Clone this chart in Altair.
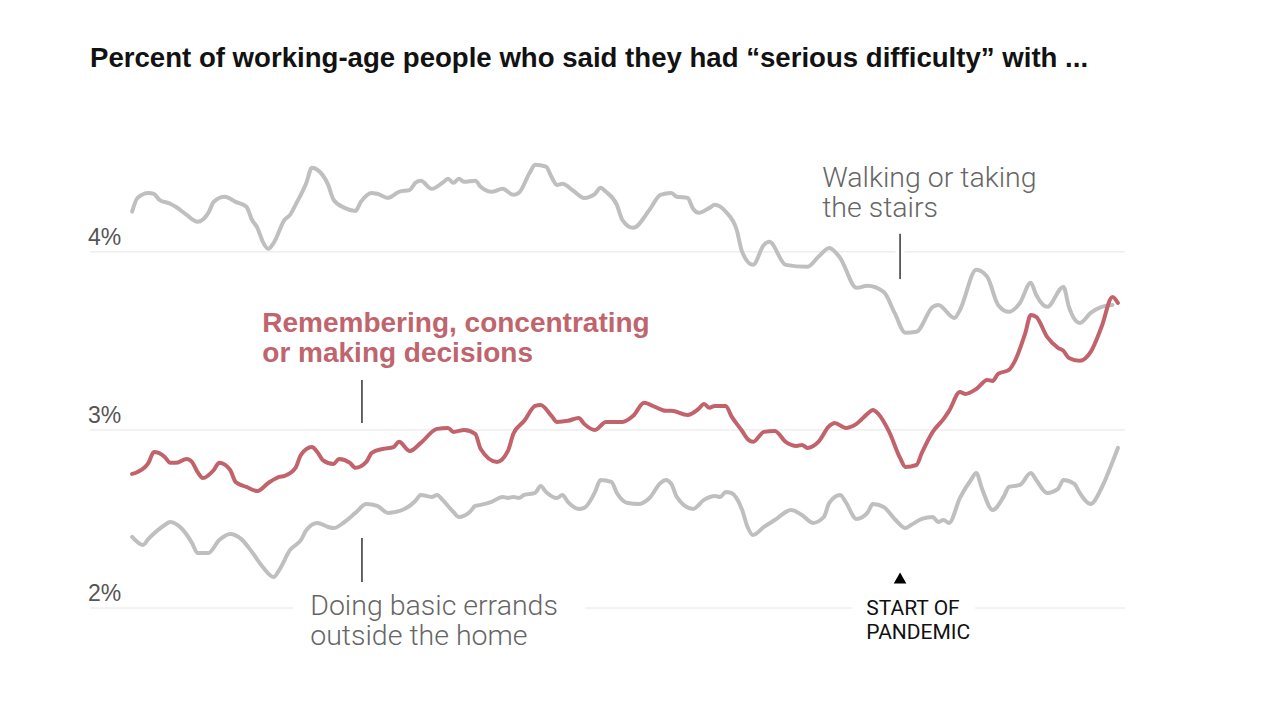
import altair as alt
import pandas as pd

# ---- data (month index from June 2008 = 0; values in percent) ----
walk_m = [0,1,3,4,5,7,8,10,12,14,15,17,19,21,22,23,24,25,26,28,29,30,32,33,34,36,37,39,41,42,44,45,47,49,51,52,53,55,57,58,59,60,61,63,64,66,68,70,71,73,74,76,77,78,79,81,83,85,86,87,89,90,92,95,97,99,100,102,103,104,106,107,109,111,112,114,116,117,120,124,126,128,130,133,135,138,140,142,144,147,148,151,152,155,157,159,161,163,165,166,168,171,172,174,176,178,180]
walk_v = [4.226,4.303,4.331,4.326,4.292,4.270,4.253,4.208,4.169,4.219,4.281,4.309,4.281,4.253,4.180,4.135,4.056,4.017,4.051,4.180,4.208,4.264,4.388,4.472,4.461,4.376,4.292,4.247,4.230,4.281,4.331,4.326,4.303,4.337,4.348,4.388,4.399,4.354,4.388,4.410,4.388,4.410,4.393,4.399,4.365,4.337,4.354,4.320,4.331,4.444,4.489,4.478,4.421,4.376,4.382,4.343,4.303,4.326,4.360,4.337,4.264,4.180,4.135,4.236,4.320,4.331,4.309,4.303,4.242,4.219,4.247,4.264,4.225,4.124,4.000,3.927,4.039,4.056,3.927,3.916,3.972,4.022,3.966,3.798,3.809,3.775,3.657,3.545,3.551,3.691,3.702,3.629,3.674,3.899,3.860,3.702,3.663,3.713,3.826,3.758,3.691,3.803,3.691,3.601,3.657,3.691,3.702]

red_m = [0,1,3,4,6,7,8,10,11,12,13,15,16,18,19,21,23,25,27,28,30,31,33,34,35,37,38,40,41,43,44,46,48,49,51,53,56,58,59,61,63,64,67,69,70,72,74,75,77,78,80,82,83,85,87,90,92,94,96,98,99,102,104,105,106,107,109,110,112,113,114,116,118,120,122,123,124,126,128,129,131,133,135,136,137,139,141,142,144,145,147,149,150,152,153,155,157,158,159,161,162,164,165,166,168,170,171,172,174,176,178,180,181]
red_v = [2.753,2.764,2.815,2.876,2.848,2.815,2.815,2.837,2.820,2.764,2.730,2.775,2.815,2.775,2.708,2.680,2.657,2.702,2.736,2.742,2.787,2.860,2.904,2.876,2.831,2.809,2.837,2.815,2.787,2.820,2.871,2.893,2.904,2.933,2.882,2.927,3.006,3.011,2.989,3.000,2.978,2.893,2.820,2.882,2.978,3.051,3.135,3.140,3.079,3.045,3.051,3.067,3.034,3.000,3.045,3.045,3.079,3.152,3.129,3.107,3.107,3.084,3.118,3.146,3.124,3.135,3.135,3.079,2.994,2.949,2.933,2.989,2.994,2.933,2.910,2.916,2.899,2.933,3.022,3.039,3.011,3.034,3.090,3.112,3.090,2.989,2.843,2.792,2.803,2.871,2.989,3.062,3.107,3.213,3.202,3.230,3.281,3.275,3.315,3.337,3.382,3.545,3.646,3.635,3.522,3.461,3.444,3.404,3.388,3.438,3.579,3.747,3.713]

err_m = [0,2,3,6,7,9,11,12,14,16,18,20,22,24,26,27,29,31,32,34,36,37,39,41,43,45,47,50,52,53,55,56,57,59,60,62,63,64,66,68,69,70,71,72,74,75,76,78,79,80,82,83,85,86,88,89,91,93,95,97,98,99,100,103,105,107,108,109,110,112,113,114,116,118,121,123,125,127,128,130,131,133,135,136,138,140,142,143,145,147,148,149,150,152,154,155,156,158,160,161,163,165,166,168,170,171,173,174,176,178,180,181]
err_v = [2.399,2.354,2.388,2.466,2.483,2.449,2.365,2.309,2.309,2.382,2.416,2.388,2.315,2.230,2.174,2.213,2.326,2.382,2.438,2.478,2.455,2.449,2.483,2.534,2.584,2.573,2.534,2.556,2.601,2.635,2.624,2.635,2.607,2.539,2.511,2.539,2.573,2.579,2.596,2.624,2.618,2.624,2.618,2.635,2.646,2.685,2.652,2.618,2.635,2.596,2.556,2.562,2.652,2.719,2.708,2.646,2.590,2.584,2.618,2.702,2.719,2.697,2.624,2.556,2.607,2.629,2.624,2.652,2.646,2.551,2.455,2.410,2.455,2.494,2.551,2.522,2.478,2.511,2.590,2.635,2.596,2.500,2.534,2.584,2.567,2.500,2.449,2.466,2.500,2.511,2.483,2.494,2.478,2.618,2.719,2.758,2.674,2.551,2.624,2.680,2.691,2.758,2.719,2.646,2.669,2.719,2.697,2.646,2.584,2.674,2.820,2.899]

series_names = ["Walking or taking the stairs", "Doing basic errands outside the home",
                "Remembering, concentrating or making decisions"]
series_colors = ["#bfbfbf", "#bfbfbf", "#c2636c"]

y_ticks = [2, 3, 4]
y_tick_labels = ["2%", "3%", "4%"]

title_text = "Percent of working-age people who said they had \u201cserious difficulty\u201d with ..."

pandemic_month = 141  # March 2020

# ---- tables ----
gray_df = pd.concat([
    pd.DataFrame({"m": walk_m, "v": walk_v, "s": series_names[0]}),
    pd.DataFrame({"m": err_m, "v": err_v, "s": series_names[1]}),
])
red_df = pd.DataFrame({"m": red_m, "v": red_v, "s": series_names[2]})

grid_df = pd.DataFrame({
    "y": [2, 2, 2, 3, 4, 4],
    "x0": [-7.7, 83.2, 154.8, -7.7, -7.7, 141.8],
    "x1": [29.6, 132.2, 182.3, 182.3, 140.2, 182.3],
})
ylab_df = pd.DataFrame({"v": y_ticks, "t": y_tick_labels})

gray_lab = pd.DataFrame({
    "m": [126.7, 126.7, 32.7, 32.7],
    "v": [4.363, 4.198, 1.961, 1.792],
    "t": ["Walking or taking", "the stairs", "Doing basic errands", "outside the home"],
})
red_lab = pd.DataFrame({
    "m": [23.9, 23.9], "v": [3.552, 3.384],
    "t": ["Remembering, concentrating", "or making decisions"],
})
pan_lab = pd.DataFrame({
    "m": [134.8, 134.8], "v": [1.961, 1.824], "t": ["START OF", "PANDEMIC"],
})
ticks_df = pd.DataFrame({
    "m": [pandemic_month, 42.2, 42.2],
    "v": [4.101, 3.281, 2.393],
    "v2": [3.848, 3.039, 2.146],
})
tri_df = pd.DataFrame({"m": [pandemic_month], "v": [2.169]})

xs = alt.Scale(domain=[-8.1, 182.3], nice=False, zero=False)
ys = alt.Scale(domain=[2, 4.6], nice=False, zero=False)

def X(f="m"):
    return alt.X(f"{f}:Q", scale=xs, axis=None)

def Y(f="v"):
    return alt.Y(f"{f}:Q", scale=ys, axis=None)

base_font = "Roboto"
bold_font = "Liberation Sans"

grid = alt.Chart(grid_df).mark_rule(color="#e6e6e6", strokeWidth=1).encode(
    x=X("x0"), x2="x1", y=Y("y"))

ylabels = alt.Chart(ylab_df).mark_text(
    align="left", baseline="alphabetic", dy=-7, font="Liberation Sans", fontSize=23,
    color="#555555"
).encode(x=alt.value(0), y=Y("v"), text="t:N")

color_scale = alt.Scale(domain=series_names, range=series_colors)

gray_lines = alt.Chart(gray_df).mark_line(
    strokeWidth=4, strokeCap="round", strokeJoin="round", interpolate="monotone"
).encode(x=X(), y=Y(), detail="s:N", color=alt.Color("s:N", scale=color_scale, legend=None))

red_line = alt.Chart(red_df).mark_line(
    strokeWidth=4, strokeCap="round", strokeJoin="round", interpolate="monotone"
).encode(x=X(), y=Y(), color=alt.Color("s:N", scale=color_scale, legend=None))

ticks = alt.Chart(ticks_df).mark_rule(color="#333333", strokeWidth=1.5).encode(
    x=X(), y=Y(), y2="v2")

tri = alt.Chart(tri_df).mark_point(
    shape="triangle-up", filled=True, color="#000000", size=160, opacity=1
).encode(x=X(), y=Y())

gray_text = alt.Chart(gray_lab).mark_text(
    align="left", baseline="alphabetic", font=base_font, fontSize=28.5, fontWeight=300, color="#666666"
).encode(x=X(), y=Y(), text="t:N")

red_text = alt.Chart(red_lab).mark_text(
    align="left", baseline="alphabetic", font=bold_font, fontSize=28, fontWeight="bold", color="#c0646d"
).encode(x=X(), y=Y(), text="t:N")

pan_text = alt.Chart(pan_lab).mark_text(
    align="left", baseline="alphabetic", font=base_font, fontSize=21, color="#111111"
).encode(x=X(), y=Y(), text="t:N")

title = alt.Chart(pd.DataFrame({"t": [title_text]})).mark_text(
    align="left", baseline="alphabetic", font=bold_font, fontSize=27.6, fontWeight="bold", color="#121212"
).encode(x=alt.value(2), y=alt.value(-78), text="t:N")

chart = alt.layer(
    grid, ylabels, gray_lines, red_line, ticks, tri, gray_text, red_text, pan_text, title
).properties(
    width=1037, height=463,
    padding={"left": 80, "top": 137, "right": 140, "bottom": 100},
    autosize=alt.AutoSizeParams(type="none"),
    background="white",
).configure_view(stroke=None)

chart.save("out.html", embed_options={"renderer": "svg", "actions": False})
